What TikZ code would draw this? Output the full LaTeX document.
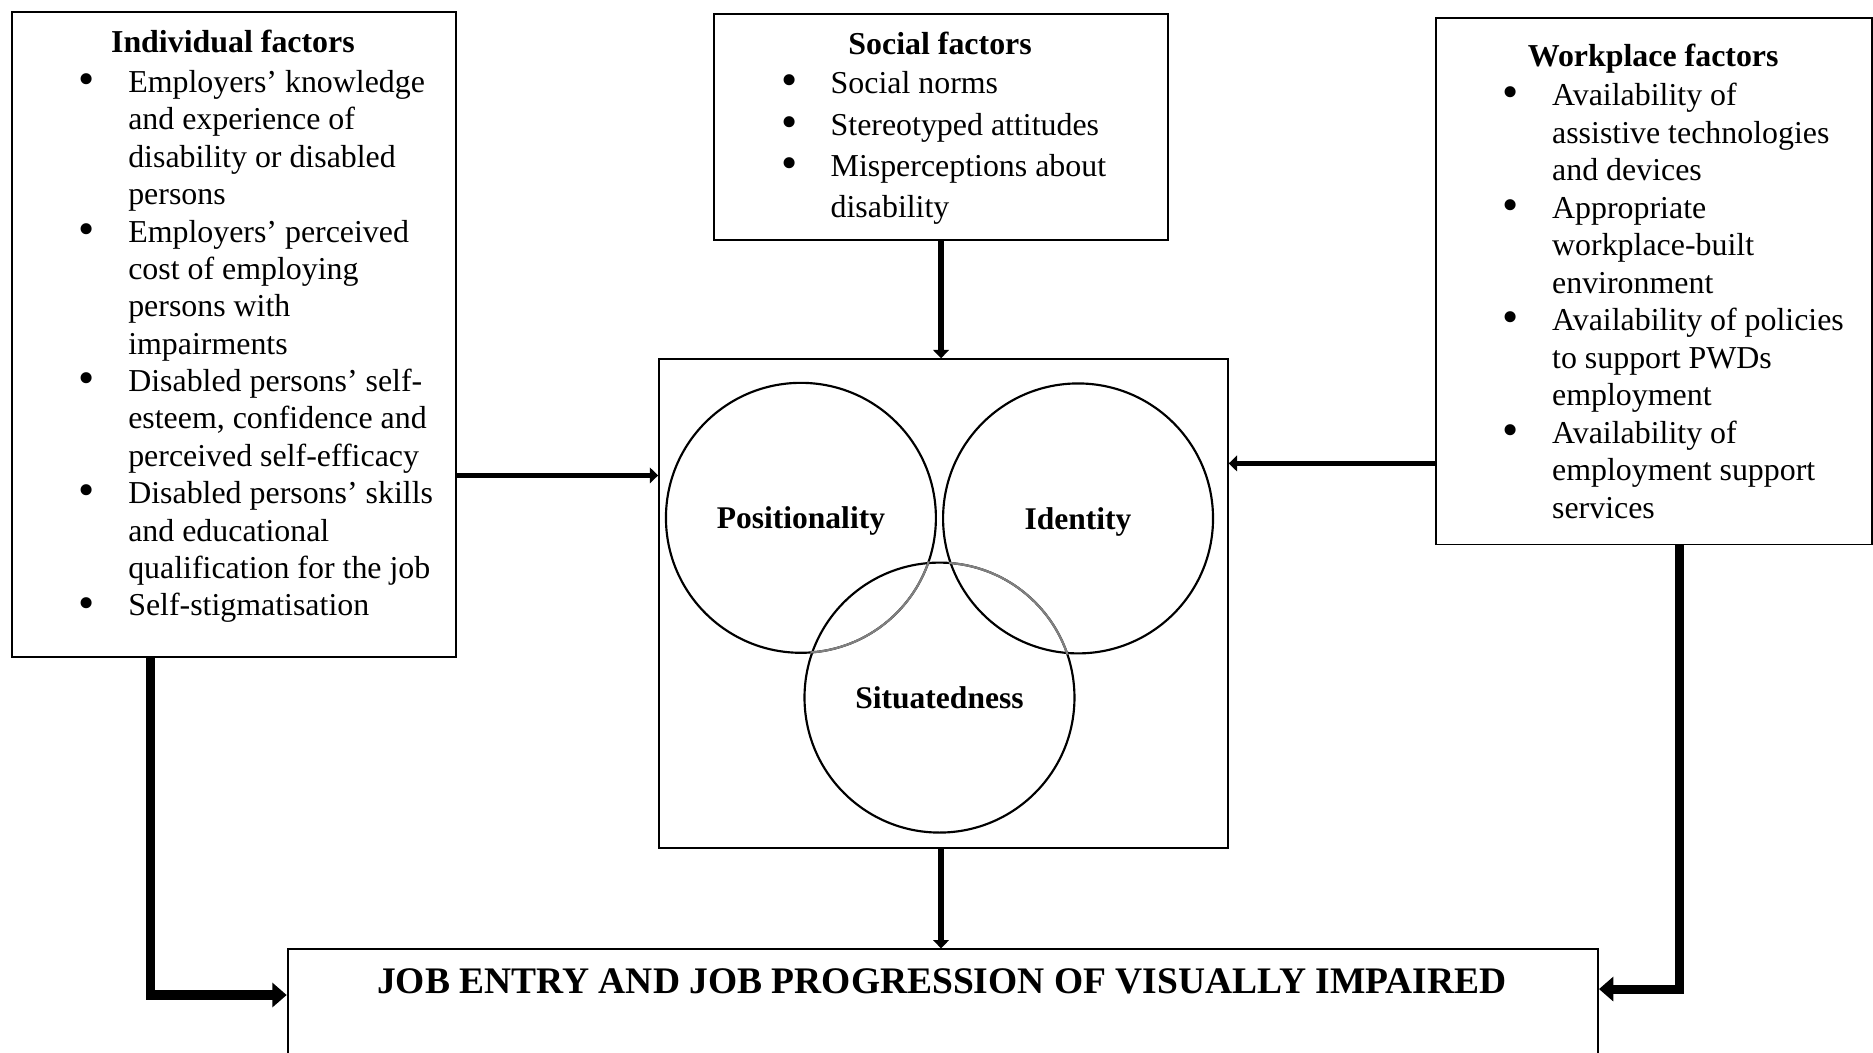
\documentclass[tikz,border=0pt]{standalone}
\usepackage{fontspec}
\setmainfont{Liberation Serif}
\usetikzlibrary{arrows.meta,calc}

% bullet column and continuation indent for the factor lists
\newcommand\bi{\makebox[34.5pt][c]{\smash{\raisebox{-0.9pt}{\scalebox{1.45}{\textbullet}}}}}
\newcommand\bc{\makebox[34.5pt]{}}
\newcommand\fl{\rule{0pt}{10pt}}

\begin{document}
\begin{tikzpicture}[x=0.5pt,y=-0.5pt,
  boxstyle/.style={draw,line width=0.8pt,rectangle,inner sep=0pt,anchor=north west},
  ringstyle/.style={draw,line width=0.9pt,circle,minimum size=113pt,inner sep=0pt,
    text height=9pt,text depth=0pt,
    font=\fontsize{13.2}{15}\selectfont\bfseries},
  titletext/.style={inner sep=0pt,anchor=base,font=\fontsize{13.35}{15.65}\selectfont\bfseries},
  listtext/.style={inner sep=0pt,anchor=north west,align=left,font=\fontsize{13.35}{15.65}\selectfont},
  thinarrow/.style={line width=2.4pt,-{Triangle[width=6.5pt,length=3.5pt]}},
  bigarrow/.style={line width=3.8pt,-{Triangle[width=10pt,length=6pt]}}]

\useasboundingbox (0,0) rectangle (1568,881);
\fill[white] (0,0) rectangle (1568,881);
\clip (0,0) rectangle (1568,881);

% ---- factor boxes ----
\node[boxstyle,minimum width=186pt,minimum height=270pt] (ind) at (9,9) {};
\node[titletext] (indt) at (195,44) {Individual factors};
\node[listtext] (indl) at (38,57) {\fl\bi Employers’ knowledge\\
\bc and experience of\\
\bc disability or disabled\\
\bc persons\\
\bi Employers’ perceived\\
\bc cost of employing\\
\bc persons with\\
\bc impairments\\
\bi Disabled persons’ self-\\
\bc esteem, confidence and\\
\bc perceived self-efficacy\\
\bi Disabled persons’ skills\\
\bc and educational\\
\bc qualification for the job\\
\bi Self-stigmatisation};

\node[boxstyle,minimum width=190pt,minimum height=94.5pt] (soc) at (597,11) {};
\node[titletext] (soct) at (787,46) {Social factors};
\node[listtext,font=\fontsize{13.35}{17.35}\selectfont] (socl) at (626,58) {\fl\bi Social norms\\
\bi Stereotyped attitudes\\
\bi Misperceptions about\\
\bc disability};

\node[boxstyle,minimum width=182.5pt,minimum height=220.5pt] (wrk) at (1201,14) {};
\node[titletext] (wrkt) at (1384,56) {Workplace factors};
\node[listtext,font=\fontsize{13.35}{15.7}\selectfont] (wrkl) at (1230,68) {\fl\bi Availability of\\
\bc assistive technologies\\
\bc and devices\\
\bi Appropriate\\
\bc workplace-built\\
\bc environment\\
\bi Availability of policies\\
\bc to support PWDs\\
\bc employment\\
\bi Availability of\\
\bc employment support\\
\bc services};

% ---- central box with the three overlapping circles ----
\node[boxstyle,minimum width=238pt,minimum height=204.5pt] (ctr) at (551,300) {};
\node[ringstyle] (pos) at (670.5,433.5) {Positionality};
\node[ringstyle] (idn) at (902.5,434) {Identity};
\node[ringstyle] (sit) at (786.5,584) {Situatedness};
\begin{scope}
  \clip (sit.center) circle[radius=57.2pt];
  \draw[line width=0.9pt,black!50] (pos.center) circle[radius=56.5pt];
\end{scope}
\begin{scope}
  \clip (idn.center) circle[radius=57.2pt];
  \draw[line width=0.9pt,black!50] (sit.center) circle[radius=56.5pt];
\end{scope}

% ---- outcome box (runs past the lower edge) ----
\node[boxstyle,minimum width=548.5pt,minimum height=100pt] (job) at (240,794) {};
\node[inner sep=0pt,anchor=base,font=\fontsize{15.7}{18}\selectfont\bfseries] (jobt) at (788.5,832)
  {JOB ENTRY AND JOB PROGRESSION OF VISUALLY IMPAIRED};

% ---- connectors ----
\draw[thinarrow] (soc.south) -- (soc.south |- ctr.north);
\coordinate (a1) at ($(ind.north east)+(0,389)$);
\draw[thinarrow] (a1) -- (a1 -| ctr.west);
\coordinate (a2) at ($(wrk.north west)+(0,374)$);
\draw[thinarrow] (a2) -- (a2 -| ctr.east);
\coordinate (a3) at ($(ctr.south)+(-2,0)$);
\draw[thinarrow] (a3) -- (a3 |- job.north);

\coordinate (e1) at ($(ind.south west)+(117,0)$);
\coordinate (j1) at ($(job.north west)+(0,39)$);
\draw[bigarrow] (e1) |- (j1);
\coordinate (e2) at ($(wrk.south west)+(205,0)$);
\coordinate (j2) at ($(job.north east)+(0,34)$);
\draw[bigarrow] (e2) |- (j2);
\end{tikzpicture}
\end{document}
